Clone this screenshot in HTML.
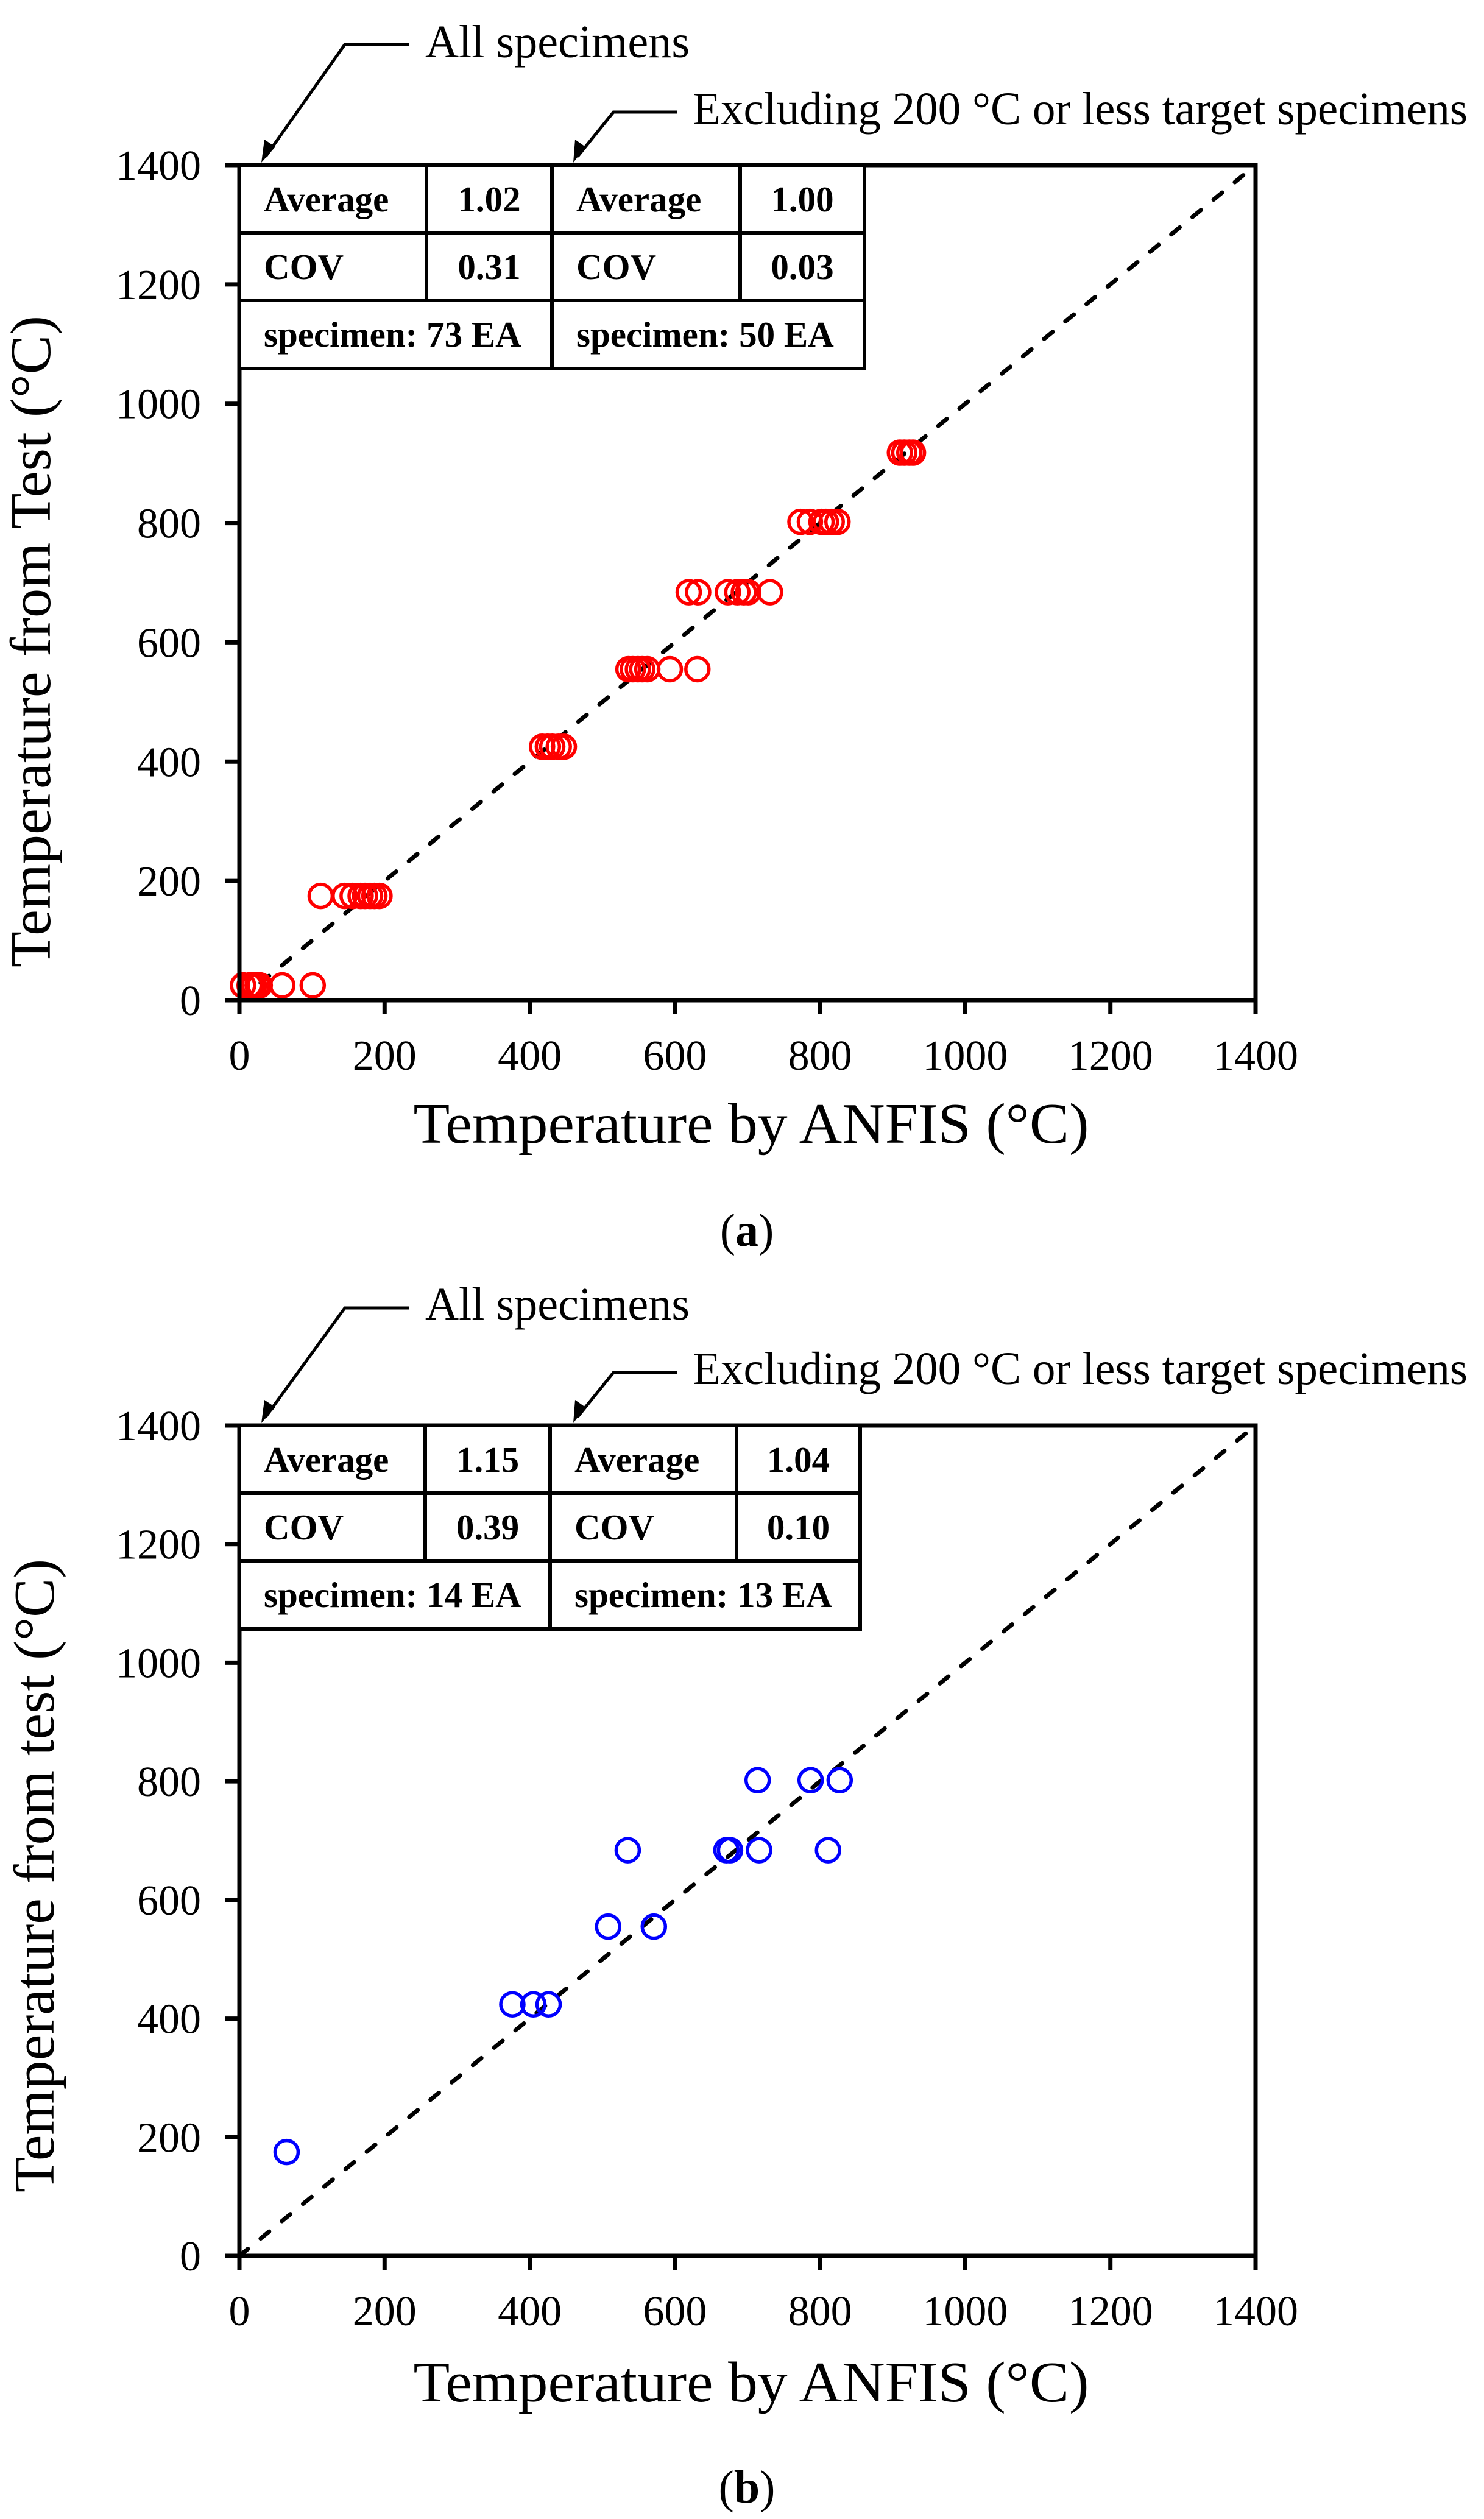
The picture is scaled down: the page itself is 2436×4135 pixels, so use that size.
<!DOCTYPE html>
<html><head><meta charset="utf-8"><style>
html,body{margin:0;padding:0;background:#fff}
svg{display:block}
text{font-family:"Liberation Serif","Times New Roman",serif;fill:#000}
</style></head><body>
<svg id="fig" width="2436" height="4135" viewBox="0 0 2436 4135" xmlns="http://www.w3.org/2000/svg"></svg>
<script>
// ---- data ----
const xTicks = [0,200,400,600,800,1000,1200,1400];
const yTicks = [0,200,400,600,800,1000,1200,1400];
const aX = [5,14,17,20,25,28,59,101, 112,145,156,167,173,180,186,193, 417,425,431,440,447, 536,542,549,555,562,593,631, 619,632,673,686,695,701,731, 773,786,802,808,816,824, 910,916,923,928];
const aY = [25,25,25,25,25,25,25,25, 175,175,175,175,175,175,175,175, 425,425,425,425,425, 555,555,555,555,555,555,555, 684,684,684,684,684,684,684, 802,802,802,802,802,802, 918,918,918,918];
const bX = [65, 376,405,426, 508,571, 535,671,676,716,811, 714,787,827];
const bY = [175, 424,424,424, 555,555, 684,684,684,684,684, 802,802,802];
const aTable = [["Average","1.02","Average","1.00"],["COV","0.31","COV","0.03"],["specimen: 73 EA","specimen: 50 EA"]];
const bTable = [["Average","1.15","Average","1.04"],["COV","0.39","COV","0.10"],["specimen: 14 EA","specimen: 13 EA"]];

const NS="http://www.w3.org/2000/svg";
const svg=document.getElementById('fig');
function mk(tag,attrs,parent,txt){const e=document.createElementNS(NS,tag);for(const k in attrs)e.setAttribute(k,attrs[k]);if(txt!==undefined)e.textContent=txt;(parent||svg).appendChild(e);return e;}

function panel(o){
  const g=mk('g',{});
  
  
  const L=393,R=2061,B=o.b,T=o.t;
  const sx=v=>L+(R-L)*v/1400, sy=v=>B-(B-T)*v/1400;
  const dl=mk('line',{x1:sx(0),y1:sy(0),x2:sx(1400),y2:sy(1400),stroke:'#000','stroke-width':7,'stroke-dasharray':'18 27','stroke-linecap':'round'},g);
  
  
  for(let i=0;i<o.xs.length;i++){
    const c=mk('circle',{cx:sx(o.xs[i]),cy:sy(o.ys[i]),r:19,fill:'none',stroke:o.color,'stroke-width':5.5},g);
    
    
  }
  const fr=mk('rect',{x:L,y:T,width:R-L,height:B-T,fill:'none',stroke:'#000','stroke-width':7},g);
  
  
  xTicks.forEach(v=>{
    mk('line',{x1:sx(v),y1:B,x2:sx(v),y2:B+23,stroke:'#000','stroke-width':7},g);
    const t=mk('text',{x:sx(v),y:B+114,'font-size':70,'text-anchor':'middle'},g,String(v));
    
    
  });
  yTicks.forEach(v=>{
    mk('line',{x1:L-23,y1:sy(v),x2:L,y2:sy(v),stroke:'#000','stroke-width':7},g);
    const t=mk('text',{x:330,y:sy(v)+24,'font-size':70,'text-anchor':'end'},g,String(v));
    
    
  });
  const xt=mk('text',{x:1233,y:o.xtY,'font-size':94,'text-anchor':'middle',textLength:1109,lengthAdjust:'spacingAndGlyphs'},g,'Temperature by ANFIS (°C)');
  
  
  const yt=mk('text',{x:0,y:0,'font-size':94,'text-anchor':'middle',textLength:o.ytLen,lengthAdjust:'spacingAndGlyphs',transform:`translate(${o.ytX},${o.ytC}) rotate(-90)`},g,o.ytText);
  
  
  const cols=o.cols, rows=[T,T+111,T+222,T+334];
  const tb=mk('g',{},g);
  
  
  mk('rect',{x:cols[0],y:rows[0],width:cols[4]-cols[0],height:rows[3]-rows[0],fill:'#fff',stroke:'#000','stroke-width':6},tb);
  [1,2].forEach(r=>mk('line',{x1:cols[0],y1:rows[r],x2:cols[4],y2:rows[r],stroke:'#000','stroke-width':6},tb));
  mk('line',{x1:cols[1],y1:rows[0],x2:cols[1],y2:rows[2],stroke:'#000','stroke-width':6},tb);
  mk('line',{x1:cols[3],y1:rows[0],x2:cols[3],y2:rows[2],stroke:'#000','stroke-width':6},tb);
  mk('line',{x1:cols[2],y1:rows[0],x2:cols[2],y2:rows[3],stroke:'#000','stroke-width':6},tb);
  for(let r=0;r<2;r++){
    const row=o.table[r];
    const ty=rows[r]+76;
    mk('text',{x:cols[0]+40,y:ty,'font-size':59,'font-weight':'bold'},tb,row[0]);
    mk('text',{x:(cols[1]+cols[2])/2,y:ty,'font-size':59,'font-weight':'bold','text-anchor':'middle'},tb,row[1]);
    mk('text',{x:cols[2]+40,y:ty,'font-size':59,'font-weight':'bold'},tb,row[2]);
    mk('text',{x:(cols[3]+cols[4])/2,y:ty,'font-size':59,'font-weight':'bold','text-anchor':'middle'},tb,row[3]);
  }
  mk('text',{x:cols[0]+40,y:rows[2]+76,'font-size':59,'font-weight':'bold'},tb,o.table[2][0]);
  mk('text',{x:cols[2]+40,y:rows[2]+76,'font-size':59,'font-weight':'bold'},tb,o.table[2][1]);
  const a1=mk('g',{},g);
  
  
  mk('polyline',{points:`672,${o.a1y} 566,${o.a1y} 436,${T-14}`,fill:'none',stroke:'#000','stroke-width':5},a1);
  mk('polygon',{points:`429,${T-4} 434,${T-42} 452,${T-30}`,fill:'#000'},a1);
  mk('text',{x:698,y:o.a1t,'font-size':76,textLength:434,lengthAdjust:'spacingAndGlyphs'},a1,'All specimens');
  const a2=mk('g',{},g);
  
  
  mk('polyline',{points:`1112,${o.a2y} 1007,${o.a2y} 948,${T-14}`,fill:'none',stroke:'#000','stroke-width':5},a2);
  mk('polygon',{points:`941,${T-4} 944,${T-42} 961,${T-30}`,fill:'#000'},a2);
  mk('text',{x:1137,y:o.a2t,'font-size':76,textLength:1272,lengthAdjust:'spacingAndGlyphs'},a2,'Excluding 200 °C or less target specimens');
  const cap=mk('text',{x:1226,y:o.capY,'font-size':76,'text-anchor':'middle'},g);
  
  
  mk('tspan',{},cap,'(');
  mk('tspan',{'font-weight':'bold'},cap,o.letter);
  mk('tspan',{},cap,')');
}
panel({name:'panel-a',t:271,b:1642,xs:aX,ys:aY,color:'#ff0000',table:aTable,cols:[393,700,906,1215,1419],
  xtY:1876,ytX:82,ytC:1053,ytLen:1070,ytText:'Temperature from Test (°C)',a1y:73,a1t:94,a2y:184,a2t:204,capY:2045,letter:'a'});
panel({name:'panel-b',t:2340,b:3703,xs:bX,ys:bY,color:'#0000ff',table:bTable,cols:[393,698,903,1209,1412],
  xtY:3942,ytX:88,ytC:3079,ytLen:1040,ytText:'Temperature from test (°C)',a1y:2147,a1t:2166,a2y:2253,a2t:2272,capY:4108,letter:'b'});
</script>
</body></html>
